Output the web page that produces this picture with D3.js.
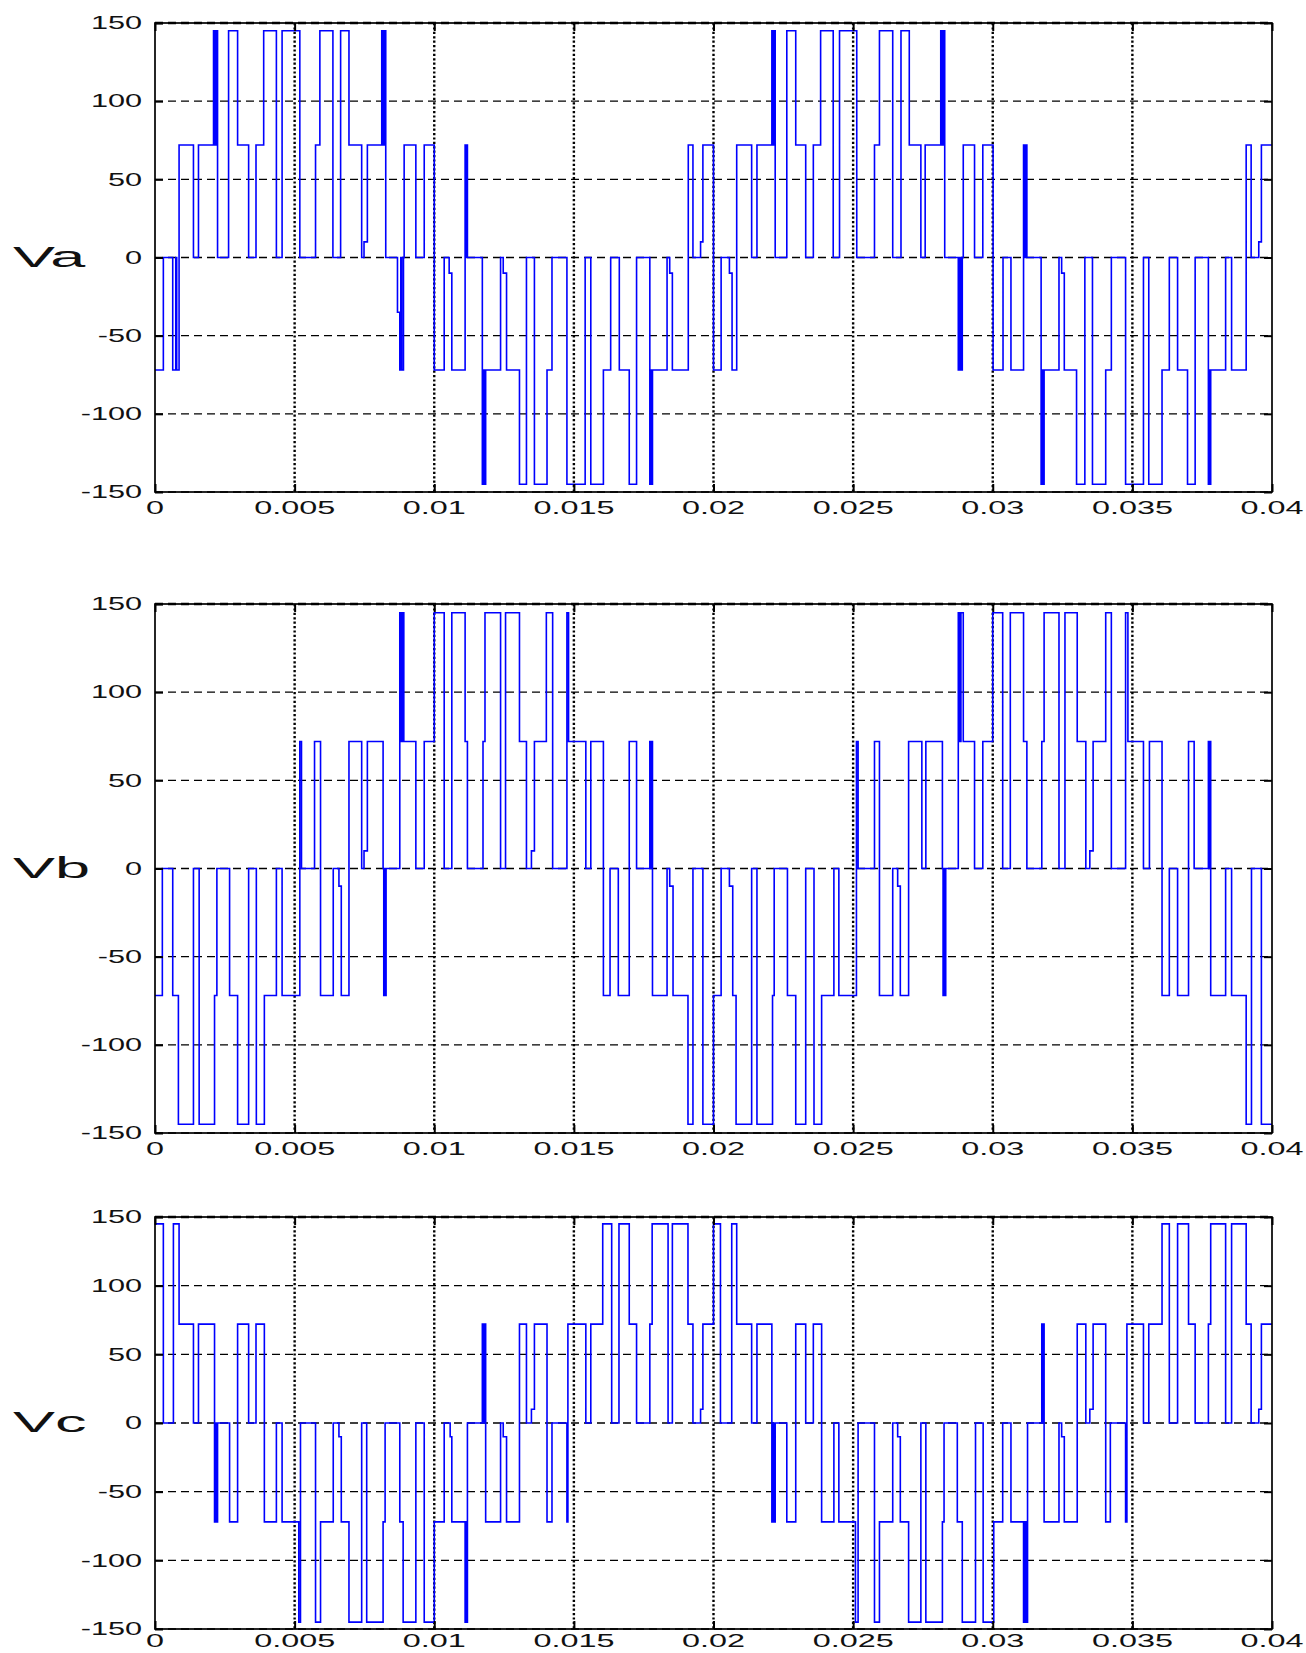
<!DOCTYPE html>
<html>
<head>
<meta charset="utf-8">
<script src="https://cdn.jsdelivr.net/npm/d3@7"></script>
<style>
  html, body { margin: 0; padding: 0; background: #fff; }
  svg { display: block; }
</style>
</head>
<body>
<svg id="chart" width="1306" height="1653"></svg>
<script>
// ---------------- DATA (times in milliseconds, values in volts) ----------------
const xTickValues = [0, 0.005, 0.01, 0.015, 0.02, 0.025, 0.03, 0.035, 0.04];
const xTickLabels = ["0", "0.005", "0.01", "0.015", "0.02", "0.025", "0.03", "0.035", "0.04"];
const yTickValues = [-150, -100, -50, 0, 50, 100, 150];
const yTickLabels = ["-150", "-100", "-50", "0", "50", "100", "150"];
const seriesNames = ["Va", "Vb", "Vc"];

const vaTimesMs = [0,0.299,0.635,0.743,0.778,0.862,1.377,1.557,2.096,2.144,2.192,2.240,2.635,2.958,3.353,3.617,3.892,4.347,4.551,5.186,5.749,5.904,6.371,6.647,6.946,7.401,7.485,7.605,8.120,8.168,8.216,8.263,8.683,8.766,8.802,8.838,8.898,8.922,9.341,9.641,
  10.000,10.356,10.534,10.629,11.105,11.146,11.166,11.188,11.722,11.762,11.800,11.841,12.375,12.470,12.589,13.052,13.302,13.587,14.038,14.216,14.751,15.404,15.606,16.057,16.318,16.627,16.983,17.245,17.720,17.755,17.785,17.815,18.337,18.432,18.527,19.097,19.264,19.537,19.620,
  20.000,20.273,20.570,20.665,20.831,21.366,21.556,22.090,22.130,22.170,22.209,22.625,22.945,23.302,23.575,23.836,24.287,24.513,25.130,25.765,25.943,26.418,26.714,27.011,27.426,27.580,28.138,28.185,28.233,28.280,28.766,28.813,28.861,28.909,28.944,29.348,29.644,
  30.012,30.368,30.652,31.103,31.139,31.174,31.222,31.732,31.768,31.803,31.839,32.372,32.467,32.562,33.001,33.298,33.571,34.045,34.247,34.757,35.397,35.587,36.062,36.323,36.619,36.975,37.248,37.722,37.758,37.782,37.805,38.339,38.553,39.075,39.253,39.526,39.620,40];
const vaValues = [-72,0,-72,0,-72,72,0,72,145,72,145,0,145,72,0,72,145,0,145,0,72,145,0,145,72,0,10,72,145,72,145,0,-35,-72,0,-72,0,72,0,72,
  -72,0,-10,-72,72,0,72,0,-145,-72,-145,-72,0,-10,-72,-145,0,-145,-72,0,-145,0,-145,-72,0,-72,-145,0,-145,-72,-145,-72,0,-10,-72,72,0,10,72,
  -72,0,-10,-72,72,0,72,145,72,145,0,145,72,0,72,145,0,145,0,72,145,0,145,72,0,72,145,72,145,0,-72,0,-72,0,72,0,72,
  -72,0,-72,72,0,72,0,-145,-72,-145,-72,0,-10,-72,-145,0,-145,-72,0,-145,0,-145,-72,0,-72,-145,0,-145,-72,-145,-72,0,-72,72,0,10,72,72];

const vbTimesMs = [0,0.263,0.635,0.838,1.377,1.581,2.132,2.216,2.671,2.958,3.353,3.629,3.916,4.347,4.551,5.186,5.246,5.713,5.928,6.383,6.587,6.671,6.946,7.401,7.485,7.605,8.168,8.192,8.216,8.240,8.275,8.766,8.814,8.862,8.910,9.341,9.641,
  10.000,10.356,10.629,11.105,11.188,11.746,11.817,12.375,12.553,13.052,13.302,13.480,13.587,14.014,14.240,14.751,14.810,15.428,15.606,16.057,16.295,16.591,16.983,17.245,17.720,17.755,17.780,17.815,18.337,18.432,18.551,19.086,19.264,19.620,
  20.000,20.273,20.570,20.689,20.808,21.366,21.556,22.114,22.173,22.648,22.945,23.302,23.599,23.872,24.311,24.489,25.119,25.178,25.765,25.943,26.418,26.595,26.690,26.987,27.461,27.604,28.197,28.221,28.245,28.268,28.316,28.766,28.814,28.861,28.944,29.348,29.644,
  30.000,30.356,30.629,31.103,31.222,31.756,31.839,32.372,32.586,33.025,33.333,33.476,33.594,34.045,34.247,34.757,34.840,35.397,35.611,36.062,36.323,36.619,37.011,37.212,37.722,37.758,37.782,37.805,38.339,38.553,39.075,39.265,39.620,40];
const vbValues = [-72,0,-72,-145,0,-145,-72,0,-72,-145,0,-145,-72,0,-72,72,0,72,-72,0,-10,-72,72,0,10,72,0,-72,0,-72,0,145,72,145,72,0,72,
  145,0,145,72,0,72,145,0,145,72,0,10,72,145,0,145,72,0,72,-72,0,-72,72,0,72,0,72,-72,0,-10,-72,-145,0,-145,
  -72,0,-10,-72,-145,0,-145,-72,0,-72,-145,0,-145,-72,0,-72,72,0,72,-72,0,-10,-72,72,0,72,0,-72,0,-72,0,145,72,145,72,0,72,
  145,0,145,72,0,72,145,0,145,72,0,10,72,145,0,145,72,0,72,-72,0,-72,72,0,72,0,72,-72,0,-72,-145,0,-145,-145];

const vcTimesMs = [0,0.299,0.659,0.862,1.377,1.557,2.132,2.168,2.204,2.240,2.671,2.958,3.353,3.617,3.916,4.347,4.551,5.150,5.210,5.749,5.928,6.383,6.587,6.671,6.946,7.401,7.581,8.168,8.240,8.766,8.886,9.341,9.641,
  10.000,10.356,10.570,10.629,11.105,11.135,11.165,11.188,11.722,11.762,11.800,11.841,12.375,12.470,12.589,13.052,13.302,13.480,13.587,14.038,14.216,14.751,14.786,15.428,15.606,16.033,16.354,16.615,16.983,17.245,17.720,17.803,18.373,18.527,19.086,19.264,19.537,19.620,
  20.000,20.249,20.653,20.831,21.366,21.556,22.090,22.130,22.170,22.209,22.625,22.945,23.302,23.575,23.872,24.311,24.489,25.083,25.178,25.765,25.943,26.418,26.595,26.690,26.987,27.426,27.604,28.197,28.256,28.731,28.909,29.383,29.656,
  30.036,30.356,30.652,31.103,31.150,31.198,31.246,31.756,31.792,31.815,31.839,32.372,32.467,32.562,33.025,33.333,33.476,33.594,34.045,34.211,34.757,34.804,35.397,35.587,36.062,36.323,36.619,37.011,37.248,37.722,37.805,38.339,38.553,39.075,39.253,39.526,39.620,40];
const vcValues = [145,0,145,72,0,72,-72,0,-72,0,-72,72,0,72,-72,0,-72,-145,0,-145,-72,0,-10,-72,-145,0,-145,-72,0,-72,-145,0,-145,
  -72,0,-10,-72,-145,-72,-145,0,72,0,72,-72,0,-10,-72,72,0,10,72,-72,0,-72,72,0,72,145,0,145,72,0,72,145,0,145,72,0,10,72,
  145,0,145,72,0,72,-72,0,-72,0,-72,72,0,72,-72,0,-72,-145,0,-145,-72,0,-10,-72,-145,0,-145,-72,0,-72,-145,0,-145,
  -72,0,-72,-145,-72,-145,0,72,0,72,-72,0,-10,-72,72,0,10,72,-72,0,-72,72,0,72,145,0,145,72,0,72,145,0,145,72,0,10,72,72];

// ---------------- LAYOUT ----------------
const W = 1306, H = 1653;
const svg = d3.select("#chart");
const plotLeft = 155, plotRight = 1272;
const panelBoxes = [[23, 492], [604, 1133], [1217, 1629]];
const seriesTimes = [vaTimesMs, vbTimesMs, vcTimesMs];
const seriesValues = [vaValues, vbValues, vcValues];
const FONT = "'Liberation Sans', Arial, sans-serif";
const TXT = "#111";

const x = d3.scaleLinear().domain([0, 0.04]).range([plotLeft, plotRight]);

panelBoxes.forEach(([top, bottom], i) => {
  const y = d3.scaleLinear().domain([-150, 150]).range([bottom, top]);
  const g = svg.append("g");
  const clipId = "clip" + i;
  svg.append("clipPath").attr("id", clipId).append("rect")
    .attr("x", plotLeft).attr("y", top - 2).attr("width", plotRight - plotLeft).attr("height", bottom - top + 4);

  // horizontal dashed grid
  g.selectAll("line.hg").data(yTickValues).join("line")
    .attr("x1", plotLeft).attr("x2", plotRight)
    .attr("y1", d => y(d)).attr("y2", d => y(d))
    .attr("stroke", "#000").attr("stroke-width", d => d === 150 ? 2 : 1.4)
    .attr("stroke-dasharray", "8,5");

  // vertical dotted grid
  g.selectAll("line.vg").data(xTickValues.slice(1, -1)).join("line")
    .attr("x1", d => x(d)).attr("x2", d => x(d))
    .attr("y1", top).attr("y2", bottom)
    .attr("stroke", "#000").attr("stroke-width", 2.4)
    .attr("stroke-dasharray", "2.2,2.2");

  // waveform
  const pts = seriesTimes[i].map((t, k) => [t / 1000, seriesValues[i][k]]);
  const line = d3.line().x(d => x(d[0])).y(d => y(d[1])).curve(d3.curveStepAfter);
  g.append("path").datum(pts)
    .attr("clip-path", `url(#${clipId})`)
    .attr("d", line)
    .attr("fill", "none").attr("stroke", "#0000ff").attr("stroke-width", 1.6)
    .attr("stroke-linejoin", "miter");

  // ticks (inward) via axes
  const axB = d3.axisBottom(x).tickValues(xTickValues).tickSize(-8).tickFormat("");
  const axT = d3.axisTop(x).tickValues(xTickValues).tickSize(-8).tickFormat("");
  const axL = d3.axisLeft(y).tickValues(yTickValues).tickSize(-8).tickFormat("");
  const axR = d3.axisRight(y).tickValues(yTickValues).tickSize(-8).tickFormat("");
  [[axB, `translate(0,${bottom})`], [axT, `translate(0,${top})`], [axL, `translate(${plotLeft},0)`], [axR, `translate(${plotRight},0)`]]
    .forEach(([ax, tr]) => {
      const a = g.append("g").attr("transform", tr).call(ax);
      a.select(".domain").remove();
      a.selectAll("line").attr("stroke", "#000").attr("stroke-width", 2);
    });

  // box
  g.append("rect").attr("x", plotLeft).attr("y", top)
    .attr("width", plotRight - plotLeft).attr("height", bottom - top)
    .attr("fill", "none").attr("stroke", "#000").attr("stroke-width", 1.7);
  // darker dashed overlay on the top edge (grid at 150)
  g.append("line").attr("x1", plotLeft).attr("x2", plotRight).attr("y1", top).attr("y2", top)
    .attr("stroke", "#000").attr("stroke-width", 2.4).attr("stroke-dasharray", "8,5");

  // y tick labels
  yTickValues.forEach((v, k) => {
    g.append("g").attr("transform", `translate(142,${y(v)}) scale(1.75,1)`)
      .append("text").attr("text-anchor", "end").attr("dy", "0.36em")
      .attr("font-family", FONT).attr("font-size", 17.5).attr("fill", TXT)
      .text(yTickLabels[k]);
  });

  // x tick labels (kept inside the page at the bottom)
  const xLabelBase = Math.min(bottom + 22, H - 6);
  xTickValues.forEach((v, k) => {
    g.append("g").attr("transform", `translate(${x(v)},${xLabelBase}) scale(1.85,1)`)
      .append("text").attr("text-anchor", "middle")
      .attr("font-family", FONT).attr("font-size", 17.5).attr("fill", TXT)
      .text(xTickLabels[k]);
  });

  // series label
  g.append("g").attr("transform", `translate(13,${y(0) + 9}) scale(2.1,1)`)
    .append("text").attr("text-anchor", "start")
    .attr("font-family", FONT).attr("font-size", 30).attr("fill", "#111")
    .text(seriesNames[i]);
});
</script>
</body>
</html>
